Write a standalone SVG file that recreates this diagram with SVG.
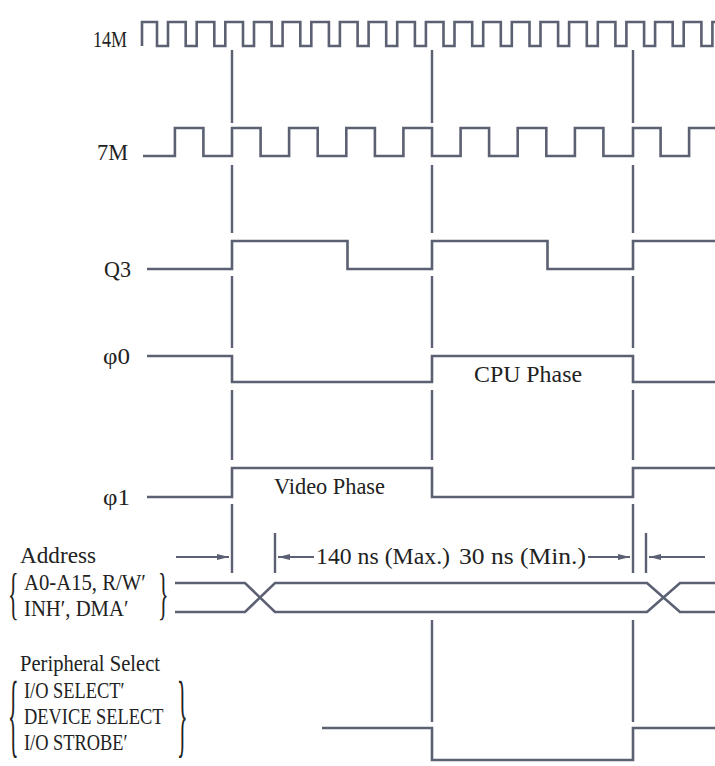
<svg xmlns="http://www.w3.org/2000/svg" width="715" height="766" viewBox="0 0 715 766">
<defs>
<style>
.w{fill:none;stroke:#5b6072;stroke-width:2.6;stroke-linejoin:miter;stroke-linecap:butt}
.mk{fill:none;stroke:#5b6072;stroke-width:2.4}
.ar{fill:none;stroke:#5b6072;stroke-width:2;marker-end:url(#ah)}
.t{font-family:"Liberation Serif","Times New Roman",serif;font-size:23px;fill:#222}
.br{font-family:"Liberation Serif","Times New Roman",serif;font-size:22px;fill:#222}
</style>
<marker id="ah" viewBox="0 0 12 8" refX="12" refY="4" markerWidth="12" markerHeight="8" markerUnits="userSpaceOnUse" orient="auto">
<path d="M0,1 L12,4 L0,7 Z" fill="#5b6072"/>
</marker>
</defs>
<rect width="715" height="766" fill="#fff"/>

<g id="sig-14M">
<text class="t" x="93" y="47" textLength="34" lengthAdjust="spacingAndGlyphs">14M</text>
<path class="w" d="M142,46 V22 H157 V46 H168 V22 H185.7 V46 H196.7 V22 H214.3 V46 H225.3 V22 H243 V46 H254 V22 H271.6 V46 H282.6 V22 H300.3 V46 H311.3 V22 H328.9 V46 H339.9 V22 H357.6 V46 H368.6 V22 H386.2 V46 H397.2 V22 H414.9 V46 H425.9 V22 H443.5 V46 H454.5 V22 H472.2 V46 H483.2 V22 H500.8 V46 H511.8 V22 H529.5 V46 H540.5 V22 H558.1 V46 H569.1 V22 H586.8 V46 H597.8 V22 H615.4 V46 H626.4 V22 H644.1 V46 H655.1 V22 H672.7 V46 H683.7 V22 H701.4 V46 H712.4 V22 H715"/>
</g>

<g id="sig-7M">
<text class="t" x="97" y="160" textLength="31" lengthAdjust="spacingAndGlyphs">7M</text>
<path class="w" d="M143,156 H174.9 V128 H203.4 V156 H232 V128 H260.6 V156 H289.1 V128 H317.7 V156 H346.3 V128 H374.9 V156 H403.4 V128 H432 V156 H460.6 V128 H489.1 V156 H517.7 V128 H546.3 V156 H574.9 V128 H603.4 V156 H633 V128 H660.6 V156 H689.1 V128 H715"/>
</g>

<g id="sig-Q3">
<text class="t" x="104" y="277" textLength="27" lengthAdjust="spacingAndGlyphs">Q3</text>
<path class="w" d="M147,269 H232 V241 H347.5 V269 H432 V241 H547.5 V269 H633 V241 H715"/>
</g>

<g id="sig-phi0">
<text class="t" x="103" y="364" textLength="27" lengthAdjust="spacingAndGlyphs">φ0</text>
<path class="w" d="M147,356 H232 V382 H432 V356 H633 V382 H715"/>
<text class="t" x="474" y="382" textLength="108" lengthAdjust="spacingAndGlyphs">CPU Phase</text>
</g>

<g id="sig-phi1">
<text class="t" x="103" y="505" textLength="27" lengthAdjust="spacingAndGlyphs">φ1</text>
<path class="w" d="M147,497 H232 V468 H432 V497 H633 V468 H715"/>
<text class="t" x="274" y="494" textLength="111" lengthAdjust="spacingAndGlyphs">Video Phase</text>
</g>

<g id="sig-address">
<text class="t" x="20" y="563" textLength="76" lengthAdjust="spacingAndGlyphs">Address</text>
<text class="br" transform="translate(8,613) scale(1,2.6)">{</text>
<text class="t" transform="translate(24,590) scale(0.9,1)">A0-A15, R/W′</text>
<text class="t" transform="translate(24,616) scale(0.9,1)">INH′, DMA′</text>
<text class="br" transform="translate(158,613) scale(1,2.6)">}</text>
<path class="w" d="M175,583 H245 L275,612 H647 L680,583 H715"/>
<path class="w" d="M175,612 H245 L275,583 H647 L680,612 H715"/>
<text class="t" x="316" y="564" textLength="134" lengthAdjust="spacingAndGlyphs">140 ns (Max.)</text>
<text class="t" x="459" y="564" textLength="127" lengthAdjust="spacingAndGlyphs">30 ns (Min.)</text>
</g>

<g id="sig-periph">
<text class="t" x="20" y="671" textLength="140" lengthAdjust="spacingAndGlyphs">Peripheral Select</text>
<text class="br" transform="translate(8,746) scale(1,4.2)">{</text>
<text class="t" transform="translate(24,698) scale(0.8,1)">I/O SELECT′</text>
<text class="t" transform="translate(24,724) scale(0.8,1)">DEVICE SELECT</text>
<text class="t" transform="translate(24,750) scale(0.8,1)">I/O STROBE′</text>
<text class="br" transform="translate(177,746) scale(1,4.2)">}</text>
<path class="w" d="M322,728 H432 V760 H633 V728 H715"/>
</g>

<g id="connectors">
<path class="mk" d="M232,50 V123 M232,165 V233 M232,276 V348 M232,390 V460 M232,504 V573"/>
<path class="mk" d="M432,50 V123 M432,165 V233 M432,276 V348 M432,390 V460 M432,620 V722"/>
<path class="mk" d="M633,50 V123 M633,165 V233 M633,276 V348 M633,390 V460 M633,504 V573 M633,620 V722"/>
<path class="mk" d="M275,533 V573 M646,533 V573"/>
<line class="ar" x1="176" y1="557" x2="229" y2="557"/>
<line class="ar" x1="314" y1="557" x2="278" y2="557"/>
<line class="ar" x1="588" y1="557" x2="630" y2="557"/>
<line class="ar" x1="705" y1="557" x2="649" y2="557"/>
</g>
</svg>
